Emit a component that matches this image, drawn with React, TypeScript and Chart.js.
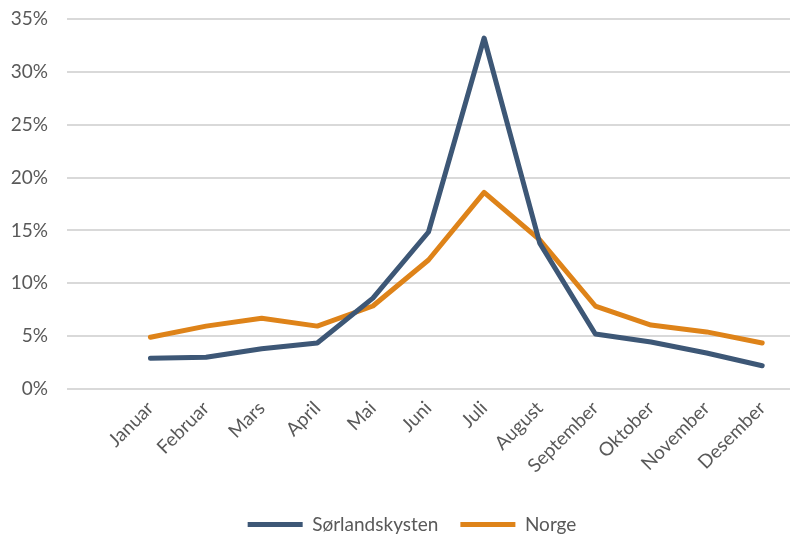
import React, { useEffect, useRef } from "react";
import { Chart, registerables } from "chart.js";

Chart.register(...registerables);

const categories = ["", "Januar", "Februar", "Mars", "April", "Mai", "Juni", "Juli", "August", "September", "Oktober", "November", "Desember"];
const sorlandskysten = [null, 2.9, 3.0, 3.8, 4.35, 8.6, 14.85, 33.2, 13.8, 5.2, 4.45, 3.4, 2.2];
const norge = [null, 4.9, 5.95, 6.7, 5.95, 7.85, 12.2, 18.6, 14.1, 7.85, 6.05, 5.4, 4.35];
const yTicks = [0, 5, 10, 15, 20, 25, 30, 35];

const FONT = "Lato, 'Open Sans', sans-serif";
const CANVAS_H = 544;
const LEGEND_PAD = 22;

const shiftLegend = {
  id: "shiftLegend",
  afterLayout(chart: any) {
    if (chart.legend) {
      chart.legend.left += 17;
      chart.legend.right += 17;
    }
  },
};

export default function App() {
  const ref = useRef<HTMLCanvasElement | null>(null);
  useEffect(() => {
    if (!ref.current) return;
    const chart = new Chart(ref.current, {
      type: "line",
      data: {
        labels: categories,
        datasets: [
          {
            label: "Sørlandskysten",
            data: sorlandskysten,
            borderColor: "#3D5776",
            backgroundColor: "#3D5776",
            borderWidth: 5,
            pointRadius: 0,
            borderCapStyle: "round",
            borderJoinStyle: "round",
            tension: 0,
          },
          {
            label: "Norge",
            data: norge,
            borderColor: "#DE8319",
            backgroundColor: "#DE8319",
            borderWidth: 5,
            pointRadius: 0,
            borderCapStyle: "round",
            borderJoinStyle: "round",
            tension: 0,
          },
        ],
      },
      options: {
        animation: false,
        responsive: false,
        maintainAspectRatio: false,
        layout: { padding: { top: 0, right: 4, left: 0, bottom: 0 } },
        plugins: {
          tooltip: { enabled: false },
          legend: {
            position: "bottom",
            labels: {
              usePointStyle: true,
              pointStyle: "line",
              pointStyleWidth: 55,
              boxHeight: 19,
              padding: LEGEND_PAD,
              color: "#595959",
              font: { family: FONT, size: 19 },
            },
          },
        },
        scales: {
          x: {
            offset: true,
            grid: { display: false, drawTicks: false },
            border: { display: false },
            ticks: {
              autoSkip: false,
              maxRotation: 45,
              minRotation: 45,
              padding: 8,
              color: "#595959",
              font: { family: FONT, size: 19 },
            },
            afterFit: (s: any) => {
              s.height = CANVAS_H - 389 - (29 + LEGEND_PAD);
            },
          },
          y: {
            min: 0,
            max: 35,
            afterBuildTicks: (s: any) => {
              s.ticks = yTicks.map((v) => ({ value: v }));
            },
            grid: { color: "#d9d9d9", lineWidth: 2, drawTicks: false },
            border: { display: false },
            ticks: {
              padding: 19,
              color: "#595959",
              font: { family: FONT, size: 19 },
              callback: (v: any) => v + "%",
            },
            afterFit: (s: any) => {
              s.width = 67;
              s.paddingTop = 19;
              s.paddingBottom = 10;
            },
          },
        },
      },
      plugins: [shiftLegend],
    });
    return () => chart.destroy();
  }, []);
  return (
    <div style={{ position: "fixed", left: 0, top: 0, width: 794, height: 538, overflow: "hidden", background: "#fff" }}>
      <canvas ref={ref} width={794} height={CANVAS_H} style={{ width: 794, height: CANVAS_H, display: "block" }} />
    </div>
  );
}
